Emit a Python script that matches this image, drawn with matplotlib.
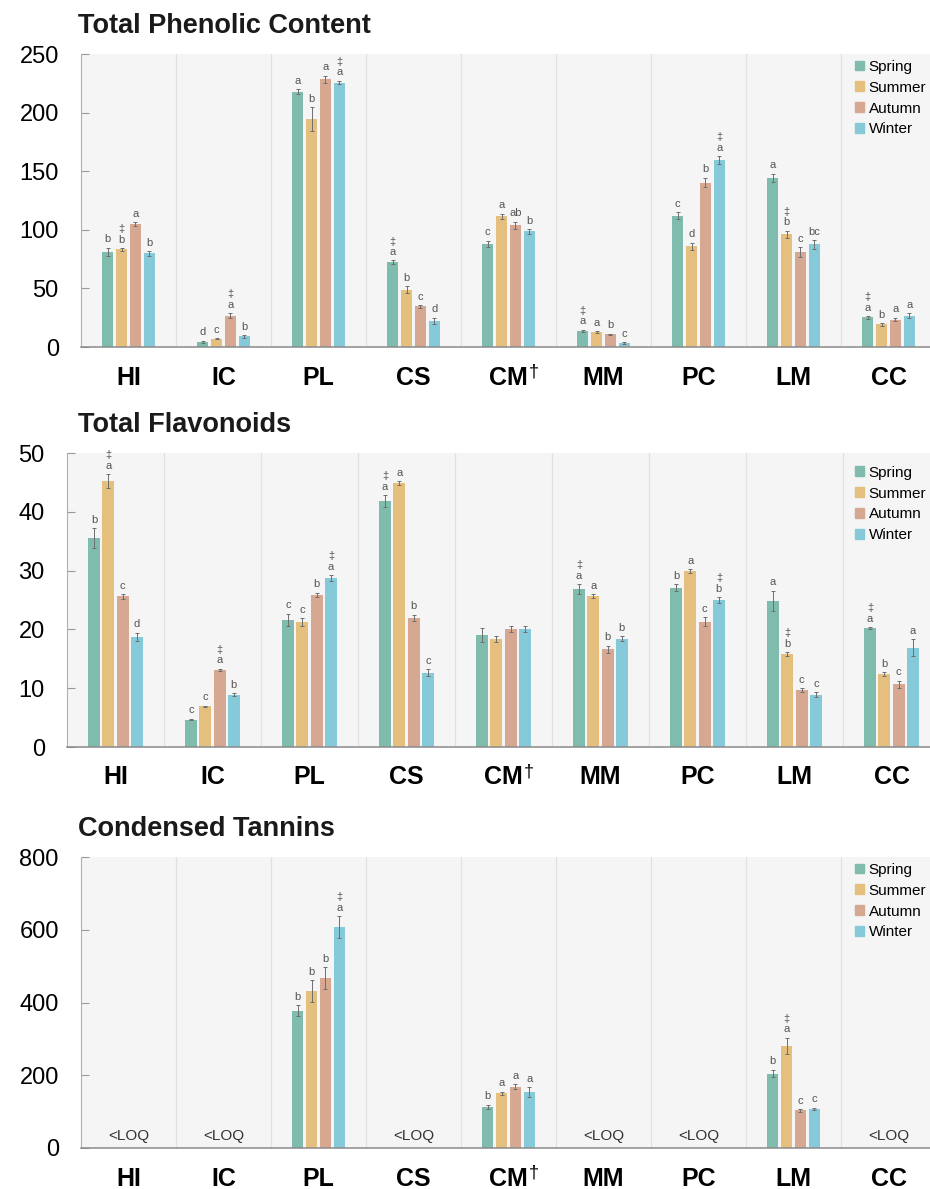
import numpy as np
import matplotlib.pyplot as plt
from matplotlib.patches import Patch

plt.rcParams['font.family'] = ['Liberation Sans', 'DejaVu Sans']

species = ['HI', 'IC', 'PL', 'CS', 'CM', 'MM', 'PC', 'LM', 'CC']
species_marks = ['', '', '', '', '†', '', '', '', '']
seasons = ['Spring', 'Summer', 'Autumn', 'Winter']
season_colors = ['#7fbcae', '#e5bf7e', '#d6a891', '#86c9d8']

# Total phenolic content (rows = seasons, columns = species)
tpc_mean = [
    [81.0, 4.5, 217.9, 72.4, 88.1, 13.9, 111.9, 144.3, 25.3],
    [83.2, 7.1, 194.6, 48.9, 111.6, 12.8, 86.1, 96.3, 19.3],
    [105.1, 26.7, 228.4, 34.7, 103.7, 10.8, 140.3, 81.0, 23.3],
    [79.8, 9.1, 225.6, 22.4, 98.6, 3.4, 159.4, 87.5, 26.7],
]
tpc_err = [
    [3.5, 0.8, 2.0, 1.5, 2.5, 0.7, 3.0, 3.5, 1.0],
    [1.0, 0.5, 10.0, 3.0, 2.0, 0.5, 3.0, 3.0, 1.0],
    [1.5, 2.0, 3.0, 1.0, 3.0, 0.5, 4.0, 4.0, 1.5],
    [2.0, 1.0, 1.5, 2.5, 2.0, 0.5, 3.5, 3.5, 2.0],
]
tpc_letters = [
    ['b', 'd', 'a', '‡a', 'c', '‡a', 'c', 'a', '‡a'],
    ['‡b', 'c', 'b', 'b', 'a', 'a', 'd', '‡b', 'b'],
    ['a', '‡a', 'a', 'c', 'ab', 'b', 'b', 'c', 'a'],
    ['b', 'b', '‡a', 'd', 'b', 'c', '‡a', 'bc', 'a'],
]

# Total flavonoids
tf_mean = [
    [35.5, 4.66, 21.6, 41.8, 19.1, 26.9, 27.1, 24.9, 20.2],
    [45.2, 6.9, 21.2, 44.9, 18.35, 25.7, 29.9, 15.8, 12.4],
    [25.6, 13.1, 25.9, 22.0, 20.0, 16.6, 21.3, 9.7, 10.7],
    [18.75, 8.9, 28.75, 12.6, 20.05, 18.4, 25.0, 8.9, 16.9],
]
tf_err = [
    [1.7, 0.15, 1.1, 1.0, 1.2, 0.8, 0.6, 1.7, 0.2],
    [1.2, 0.15, 0.7, 0.3, 0.5, 0.3, 0.3, 0.3, 0.3],
    [0.4, 0.2, 0.35, 0.5, 0.5, 0.6, 0.8, 0.3, 0.6],
    [0.7, 0.2, 0.5, 0.6, 0.5, 0.4, 0.5, 0.4, 1.4],
]
tf_letters = [
    ['b', 'c', 'c', '‡a', '', '‡a', 'b', 'a', '‡a'],
    ['‡a', 'c', 'c', 'a', '', 'a', 'a', '‡b', 'b'],
    ['c', '‡a', 'b', 'b', '', 'b', 'c', 'c', 'c'],
    ['d', 'b', '‡a', 'c', '', 'b', '‡b', 'c', 'a'],
]

# Condensed tannins (None = below limit of quantification)
ct_mean = [
    [None, None, 377.6, None, 113.4, None, None, 204.8, None],
    [None, None, 431.5, None, 150.9, None, None, 280.7, None],
    [None, None, 466.3, None, 168.2, None, None, 103.3, None],
    [None, None, 607.0, None, 153.6, None, None, 107.9, None],
]
ct_err = [
    [0, 0, 15, 0, 5, 0, 0, 10, 0],
    [0, 0, 30, 0, 4, 0, 0, 23, 0],
    [0, 0, 30, 0, 7, 0, 0, 3, 0],
    [0, 0, 30, 0, 13, 0, 0, 3, 0],
]
ct_letters = [
    ['', '', 'b', '', 'b', '', '', 'b', ''],
    ['', '', 'b', '', 'a', '', '', '‡a', ''],
    ['', '', 'b', '', 'a', '', '', 'c', ''],
    ['', '', '‡a', '', 'a', '', '', 'c', ''],
]

W, H = 930, 1189
fig = plt.figure(figsize=(W / 100, H / 100), dpi=100)

bar_w = 0.123
step = 0.147


def draw_panel(left, top, bottom, group_px, title, means, errs, letters,
               ymax, yticks, legend_y):
    ax = fig.add_axes([left / W, 1 - bottom / H, 1 - left / W, (bottom - top) / H])
    ax.set_facecolor('#f5f5f5')
    n_groups = (W - left) / group_px
    ax.set_xlim(-0.5, -0.5 + n_groups)
    ax.set_ylim(0, ymax)
    x = np.arange(len(species))

    for b in x[:-1] + 0.5:
        ax.axvline(b, color='#e1e1e1', lw=0.9, zorder=0)

    for k in range(len(seasons)):
        for i in x:
            v = means[k][i]
            if v is None:
                continue
            xi = i + (k - 1.5) * step
            ax.bar(xi, v, bar_w, color=season_colors[k], zorder=2)
            e = errs[k][i]
            ax.errorbar(xi, v, yerr=e, fmt='none', ecolor='#6e6e6e',
                        elinewidth=0.7, capsize=1.6, capthick=0.7, zorder=3)
            lab = letters[k][i]
            if lab:
                ax.annotate(lab.replace('‡', '‡\n'), (xi, v + e),
                            xytext=(0, 2.5), textcoords='offset points',
                            ha='center', va='bottom', fontsize=8,
                            color='#555555', linespacing=1.05, zorder=4)

    # species with no quantifiable value
    for i in x:
        if all(means[k][i] is None for k in range(len(seasons))):
            ax.text(i, ymax * 0.018, '<LOQ', ha='center', va='bottom',
                    fontsize=11, color='#333333')

    ax.set_xticks(x)
    ax.set_xticklabels(species, fontsize=18, fontweight='bold')
    ax.tick_params(axis='x', length=0, pad=27)
    for t in ax.get_xticklabels():
        t.set_verticalalignment('baseline')
    # superscript footnote marks next to species names
    for i, m in enumerate(species_marks):
        if m:
            ax.annotate(m, (i, 0), xycoords=('data', 'axes fraction'),
                        xytext=(18, -21), textcoords='offset points',
                        ha='center', va='baseline', fontsize=13, color='black',
                        annotation_clip=False)
    ax.set_yticks(yticks)
    ax.tick_params(axis='y', direction='in', length=6, width=0.8,
                   color='#999999', labelsize=17, pad=16)
    for s in ['top', 'right']:
        ax.spines[s].set_visible(False)
    ax.spines['left'].set_color('#b0b0b0')
    ax.spines['left'].set_linewidth(0.8)
    ax.spines['bottom'].set_color('#8a8a8a')
    ax.spines['bottom'].set_linewidth(1.1)

    handles = [Patch(color=c) for c in season_colors]
    ax.legend(handles, seasons, loc='upper left',
              bbox_to_anchor=((855 - left) / (W - left), legend_y),
              frameon=False, fontsize=11, handlelength=0.6, handleheight=0.6,
              handletextpad=0.3, labelspacing=0.45, borderpad=0, borderaxespad=0)

    fig.text(78 / W, 1 - (top - 21) / H, title, fontsize=19.5, fontweight='bold',
             color='#1a1a1a', ha='left', va='baseline')
    return ax


draw_panel(81, 54, 347, 95, 'Total Phenolic Content', tpc_mean, tpc_err,
           tpc_letters, 250, [0, 50, 100, 150, 200, 250], 0.98)
draw_panel(67, 453, 747, 97, 'Total Flavonoids', tf_mean, tf_err,
           tf_letters, 50, [0, 10, 20, 30, 40, 50], 0.957)
draw_panel(81, 857, 1148, 95, 'Condensed Tannins', ct_mean, ct_err,
           ct_letters, 800, [0, 200, 400, 600, 800], 0.98)

fig.savefig('out.png', dpi=100)
